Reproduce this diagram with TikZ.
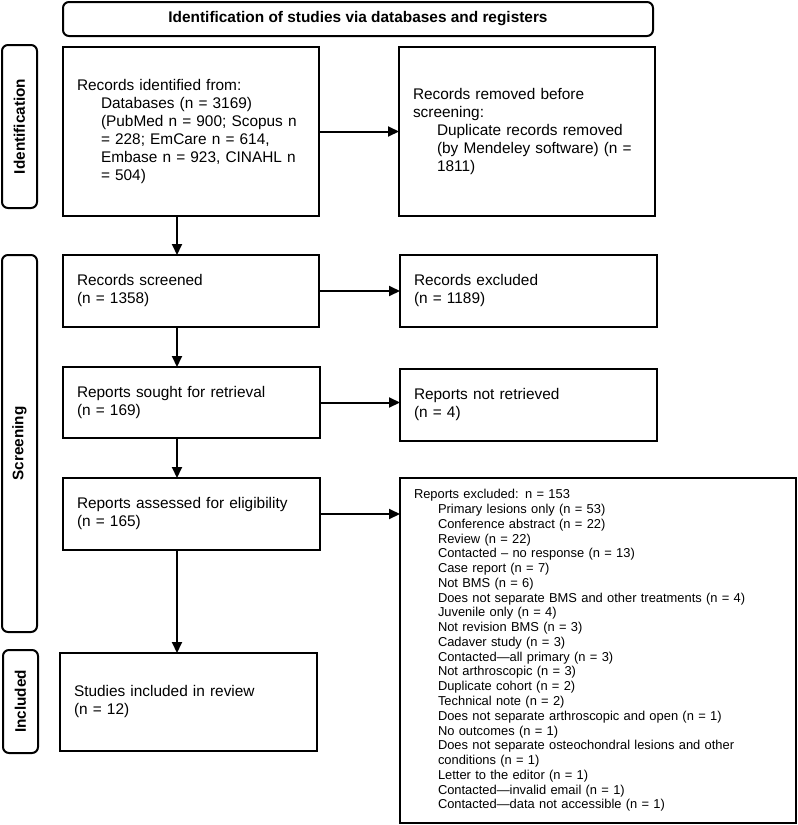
\documentclass[tikz,border=0pt]{standalone}
\usepackage{fontspec}
\setmainfont{Liberation Sans}
\usetikzlibrary{arrows.meta}

\newcommand{\ind}{\hspace*{24pt}}

\begin{document}
\begin{tikzpicture}[x=1pt,y=-1pt,
	box/.style={draw,line width=2pt,align=left,inner xsep=14pt,outer sep=0pt,
		font=\fontsize{15.4}{18}\selectfont},
	phase/.style={draw,line width=2pt,rounded corners=6pt,rotate=90,minimum height=35pt,
		inner sep=0pt,font=\fontsize{15.3}{18}\selectfont\bfseries},
	arr/.style={line width=2pt,-{Triangle[length=11pt,width=10pt]}}]
\useasboundingbox (0,0) rectangle (798,825);
\node[draw,line width=2pt,rounded corners=6pt,minimum width=590pt,minimum height=34pt,
	font=\fontsize{15.4}{18}\selectfont\bfseries](head) at (358,19)
	{Identification of studies via databases and registers};
\node[phase,minimum width=163pt](pid) at (19.5,126.5){Identification};
\node[phase,minimum width=377pt](pscr) at (19.5,443.5){Screening};
\node[phase,minimum width=103pt](pinc) at (20.5,701.5){Included};
\node[box,text width=228pt,minimum height=169pt](ident) at (191,131.5)
	{Records identified from:\\
	\ind Databases (n = 3169)\\
	\ind (PubMed n = 900; Scopus n\\
	\ind = 228; EmCare n = 614,\\
	\ind Embase n = 923, CINAHL n\\
	\ind = 504)};
\node[box,text width=228pt,minimum height=169pt](removed) at (527,131.5)
	{Records removed before\\
	screening:\\
	\ind Duplicate records removed\\
	\ind (by Mendeley software) (n =\\
	\ind 1811)};
\node[box,text width=228pt,minimum height=72pt](screened) at (191,291)
	{Records screened\\(n = 1358)};
\node[box,text width=229pt,minimum height=72pt](excluded) at (528.5,291)
	{Records excluded\\(n = 1189)};
\node[box,text width=229pt,minimum height=71pt](sought) at (191.5,402.5)
	{Reports sought for retrieval\\(n = 169)};
\node[box,text width=229pt,minimum height=72pt](notretr) at (528.5,405)
	{Reports not retrieved\\(n = 4)};
\node[box,text width=229pt,minimum height=72pt](assessed) at (191.5,514)
	{Reports assessed for eligibility\\(n = 165)};
\node[box,text width=368pt,minimum height=345pt,font=\fontsize{12.9}{14.76}\selectfont](reasons) at (598,650.5)
	{Reports excluded: n = 153\\
	\ind Primary lesions only (n = 53)\\
	\ind Conference abstract (n = 22)\\
	\ind Review (n = 22)\\
	\ind Contacted – no response (n = 13)\\
	\ind Case report (n = 7)\\
	\ind Not BMS (n = 6)\\
	\ind Does not separate BMS and other treatments (n = 4)\\
	\ind Juvenile only (n = 4)\\
	\ind Not revision BMS (n = 3)\\
	\ind Cadaver study (n = 3)\\
	\ind Contacted—all primary (n = 3)\\
	\ind Not arthroscopic (n = 3)\\
	\ind Duplicate cohort (n = 2)\\
	\ind Technical note (n = 2)\\
	\ind Does not separate arthroscopic and open (n = 1)\\
	\ind No outcomes (n = 1)\\
	\ind Does not separate osteochondral lesions and other\\
	\ind conditions (n = 1)\\
	\ind Letter to the editor (n = 1)\\
	\ind Contacted—invalid email (n = 1)\\
	\ind Contacted—data not accessible (n = 1)};
\node[box,text width=229pt,minimum height=98pt](included) at (188.5,702)
	{Studies included in review\\(n = 12)};
\coordinate (vx) at (177,0);
\draw[arr] (ident.south -| vx) -- (screened.north -| vx);
\draw[arr] (screened.south -| vx) -- (sought.north -| vx);
\draw[arr] (sought.south -| vx) -- (assessed.north -| vx);
\draw[arr] (assessed.south -| vx) -- (included.north -| vx);
\draw[arr] (ident.east) -- (ident.east -| removed.west);
\draw[arr] (screened.east) -- (screened.east -| excluded.west);
\draw[arr] (sought.east) -- (sought.east -| notretr.west);
\draw[arr] (assessed.east) -- (assessed.east -| reasons.west);
\end{tikzpicture}
\end{document}
